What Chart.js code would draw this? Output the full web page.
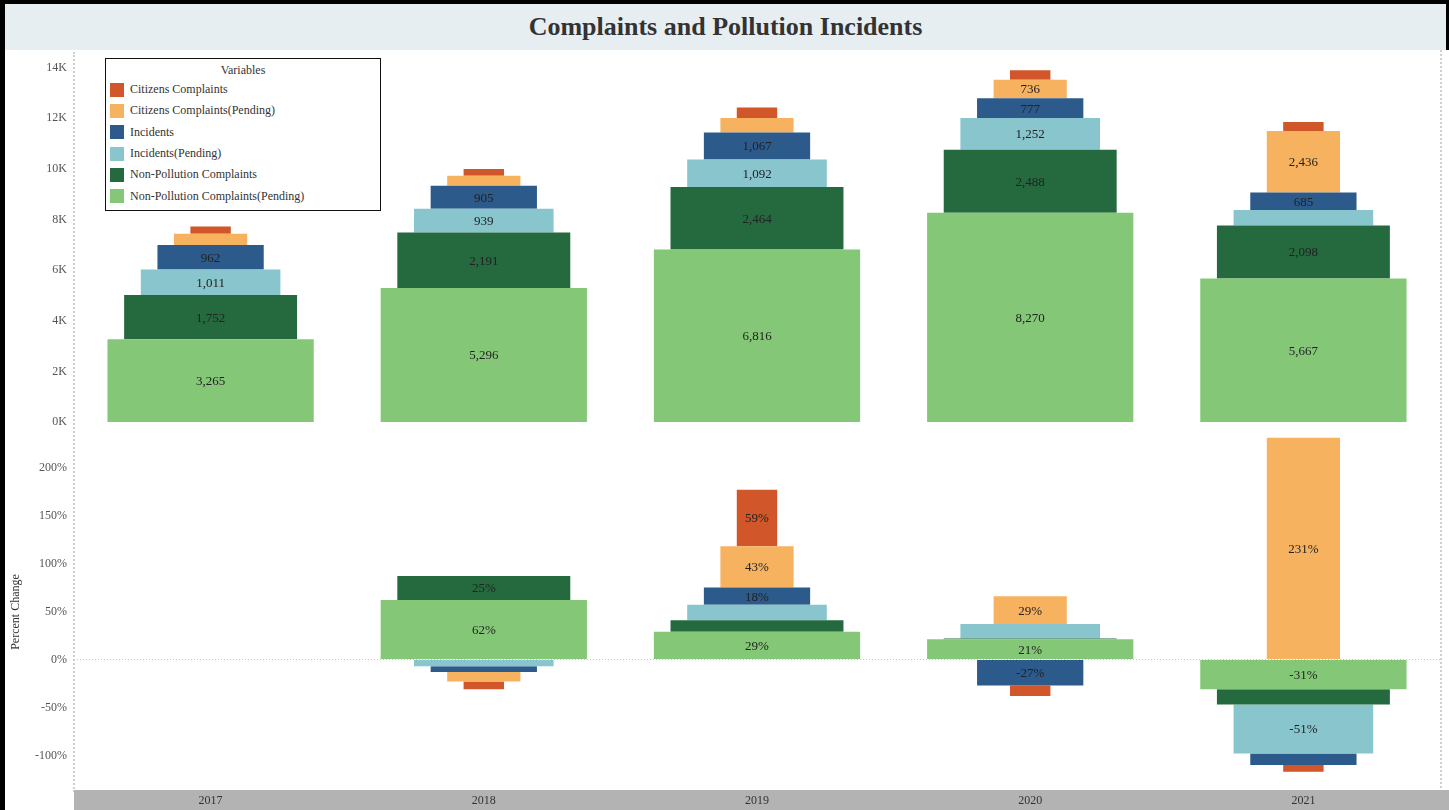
<!DOCTYPE html>
<html>
<head>
<meta charset="utf-8">
<script src="https://cdn.jsdelivr.net/npm/chart.js@4/dist/chart.umd.min.js"></script>
<style>
  html, body { margin: 0; padding: 0; background: #fff; }
  body { width: 1449px; height: 810px; position: relative; overflow: hidden; font-family: "Liberation Serif", "DejaVu Serif", serif; }
  .frame { position: absolute; left: 0; top: 0; width: 1449px; height: 810px; border-left: 5px solid #000; border-top: 4px solid #000; box-sizing: border-box; }
  .title { position: absolute; left: 5px; top: 4px; width: 1441px; height: 46px; background: #e7eef2; border-right: 3px solid #000; box-sizing: content-box;
           text-align: center; line-height: 46px; font-weight: bold; font-size: 26px; color: #333; }
  .vline { position: absolute; border-left: 2px dotted #cfcfcf; }
  .panel { position: absolute; left: 0; width: 1449px; height: 380px; }
  .legend { position: absolute; left: 105px; top: 58px; width: 274px; height: 151px; border: 1.5px solid #111; background: #fff;
            font-size: 12px; color: #333; }
  .legend .head { text-align: center; margin-top: 4px; height: 16px; }
  .legend .row { height: 21.3px; display: flex; align-items: center; padding-left: 4px; }
  .legend .sw { width: 14px; height: 14px; margin-right: 6px; }
</style>
</head>
<body>
<div class="frame"></div>
<div class="title">Complaints and Pollution Incidents</div>
<div class="vline" style="left:73px; top:52px; height:740px;"></div>
<div class="vline" style="left:1440px; top:50px; height:742px;"></div>
<div class="panel" style="top:50px;"><canvas id="counts"></canvas></div>
<div class="panel" style="top:430px;"><canvas id="change"></canvas></div>
<div class="legend" id="legend"></div>

<script>
const YEARS = ["2017", "2018", "2019", "2020", "2021"]

// yearly totals
const citizensComplaints = [290, 265, 420, 375, 350]
const citizensPending = [445, 400, 570, 736, 2436]
const incidents = [962, 905, 1067, 777, 685]
const incidentsPending = [1011, 939, 1092, 1252, 613]
const nonPollution = [1752, 2191, 2464, 2488, 2098]
const nonPollutionPending = [3265, 5296, 6816, 8270, 5667]

// percent change from the previous year
const citizensComplaintsPct = [null, -8, 59, -11, -7]
const citizensPendingPct = [null, -10, 43, 29, 231]
const incidentsPct = [null, -6, 18, -27, -12]
const incidentsPendingPct = [null, -7, 16, 15, -51]
const nonPollutionPct = [null, 25, 12, 1, -16]
const nonPollutionPendingPct = [null, 62, 29, 21, -31]

const COUNT_TICKS = [0, 2000, 4000, 6000, 8000, 10000, 12000, 14000]
const PCT_TICKS = [-100, -50, 0, 50, 100, 150, 200]

// legend order (top of the pyramid first)
const SERIES = [
  { name: "Citizens Complaints", color: "#d1572a", counts: citizensComplaints, pct: citizensComplaintsPct, width: 0.148 },
  { name: "Citizens Complaints(Pending)", color: "#f7b260", counts: citizensPending, pct: citizensPendingPct, width: 0.268 },
  { name: "Incidents", color: "#2c5a8b", counts: incidents, pct: incidentsPct, width: 0.389 },
  { name: "Incidents(Pending)", color: "#88c5cd", counts: incidentsPending, pct: incidentsPendingPct, width: 0.511 },
  { name: "Non-Pollution Complaints", color: "#256a3f", counts: nonPollution, pct: nonPollutionPct, width: 0.633 },
  { name: "Non-Pollution Complaints(Pending)", color: "#84c877", counts: nonPollutionPending, pct: nonPollutionPendingPct, width: 0.755 },
]

const FONT = "'Liberation Serif', 'DejaVu Serif', serif"

// legend box
const legendEl = document.getElementById("legend")
legendEl.innerHTML = '<div class="head">Variables</div>' +
  SERIES.map((s) => `<div class="row"><span class="sw" style="background:${s.color}"></span>${s.name}</div>`).join("")

// value labels centred inside bars that are tall enough
const barLabels = {
  id: "barLabels",
  afterDatasetsDraw(chart, args, opts) {
    const ctx = chart.ctx
    ctx.save()
    ctx.font = `13px ${FONT}`
    ctx.fillStyle = "#222"
    ctx.textAlign = "center"
    ctx.textBaseline = "middle"
    chart.data.datasets.forEach((ds, i) => {
      chart.getDatasetMeta(i).data.forEach((bar, j) => {
        const v = ds.data[j]
        if (v == null) return
        const { x, y, base } = bar.getProps(["x", "y", "base"], true)
        if (Math.abs(base - y) < 16.5) return
        ctx.fillText(opts.format(v), x, (y + base) / 2 + 1)
      })
    })
    ctx.restore()
  },
}

// grey band behind the year labels
const axisBand = {
  id: "axisBand",
  beforeDraw(chart) {
    const { ctx, chartArea } = chart
    ctx.save()
    ctx.fillStyle = "#b3b3b3"
    ctx.fillRect(chartArea.left, chartArea.bottom, chart.width - chartArea.left, chart.height - chartArea.bottom)
    ctx.restore()
  },
}

function buildDatasets(key) {
  // stacking starts with the widest bar at the bottom
  return SERIES.slice().reverse().map((s) => ({
    label: s.name,
    data: s[key],
    backgroundColor: s.color,
    borderWidth: 0,
    barPercentage: s.width,
    categoryPercentage: 1,
  }))
}

function yTicks(values, fmt) {
  return {
    afterBuildTicks: (scale) => { scale.ticks = values.map((v) => ({ value: v })) },
    afterFit: (scale) => {
      scale.width = 74
      scale.paddingTop = 0
      scale.paddingBottom = 0
    },
    ticks: { color: "#555", font: { family: FONT, size: 12 }, padding: 7, callback: fmt },
  }
}

Chart.defaults.font.family = FONT
Chart.defaults.animation = false

new Chart(document.getElementById("counts"), {
  type: "bar",
  data: { labels: YEARS, datasets: buildDatasets("counts") },
  options: {
    responsive: true,
    maintainAspectRatio: false,
    layout: { padding: { top: 5, bottom: 8, right: 9, left: 0 } },
    plugins: {
      legend: { display: false },
      tooltip: { enabled: false },
      barLabels: { format: (v) => v.toLocaleString("en-US") },
    },
    scales: {
      x: { stacked: true, display: false },
      y: {
        stacked: true,
        min: 0,
        max: 14500,
        grid: { display: false, drawTicks: false },
        border: { display: false },
        ...yTicks(COUNT_TICKS, (v) => v / 1000 + "K"),
      },
    },
  },
  plugins: [barLabels],
})

new Chart(document.getElementById("change"), {
  type: "bar",
  data: { labels: YEARS, datasets: buildDatasets("pct") },
  options: {
    responsive: true,
    maintainAspectRatio: false,
    layout: { padding: { top: 4, bottom: 0, right: 9, left: 0 } },
    plugins: {
      legend: { display: false },
      tooltip: { enabled: false },
      barLabels: { format: (v) => v + "%" },
    },
    scales: {
      x: {
        stacked: true,
        grid: { display: false, drawTicks: false },
        border: { display: false },
        afterFit: (scale) => { scale.height = 20 },
        ticks: { color: "#333", font: { family: FONT, size: 12 }, padding: 4 },
      },
      y: {
        stacked: true,
        min: -136,
        max: 235,
        grid: {
          drawTicks: false,
          lineWidth: 1,
          color: (c) => (c.tick && c.tick.value === 0 ? "#c4c4c4" : "transparent"),
        },
        border: { display: false, dash: [1, 2] },
        title: { display: true, text: "Percent Change", color: "#333", font: { family: FONT, size: 12 }, padding: { top: 9, bottom: 0 } },
        ...yTicks(PCT_TICKS, (v) => v + "%"),
      },
    },
  },
  plugins: [barLabels, axisBand],
})
</script>
</body>
</html>
